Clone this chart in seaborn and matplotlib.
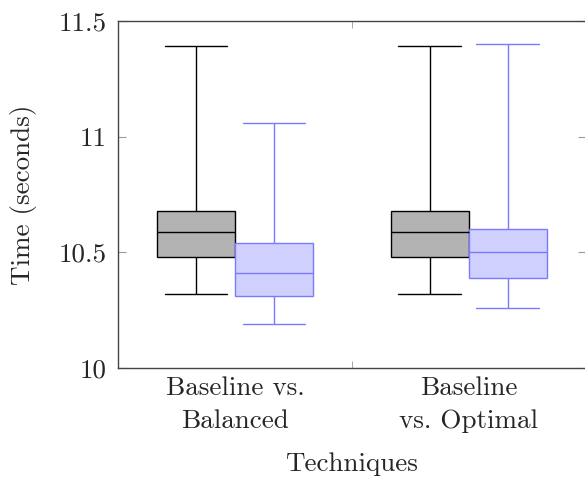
import pandas as pd
import numpy as np
import matplotlib
matplotlib.use('Agg')
import matplotlib.pyplot as plt
import seaborn as sns
from matplotlib.ticker import FixedLocator, FuncFormatter

# five-number summaries: min, q1, median, q3, max
techniques = ['Baseline vs.\nBalanced', 'Baseline\nvs. Optimal']
baseline_1 = [10.32, 10.48, 10.59, 10.68, 11.39]
balanced = [10.19, 10.31, 10.41, 10.54, 11.06]
baseline_2 = [10.32, 10.48, 10.59, 10.68, 11.39]
optimal = [10.26, 10.39, 10.50, 10.60, 11.40]

rows = []
for tech, base, other in [(techniques[0], baseline_1, balanced),
                          (techniques[1], baseline_2, optimal)]:
    for v in base:
        rows.append((tech, 'Baseline', v))
    for v in other:
        rows.append((tech, 'Technique', v))
df = pd.DataFrame(rows, columns=['technique', 'method', 'time'])

sns.set_style('white')
plt.rcParams['font.family'] = ['cmr10', 'DejaVu Serif']
plt.rcParams['axes.formatter.use_mathtext'] = True
fs = 19.5

fig = plt.figure(figsize=(5.85, 4.78), dpi=100)
ax = fig.add_axes([118 / 585, 1 - 368 / 478, 467.5 / 585, 347 / 478])

hue_order = ['Baseline', 'Technique']
palette = {'Baseline': '#b3b3b3', 'Technique': '#d0d0ff'}
box_w = 0.668
for method, edge in [('Baseline', 'black'), ('Technique', '#7a7aff')]:
    sns.boxplot(data=df[df['method'] == method], x='technique', y='time',
                hue='method', hue_order=hue_order, palette=palette,
                order=techniques, width=box_w, gap=0, whis=(0, 100),
                dodge=True, linecolor=edge, linewidth=1.0, legend=False,
                ax=ax, saturation=1, capwidths=0.8 * box_w / 2)

ax.set_xlim(-0.5, 1.5)
ax.set_ylim(10, 11.5)
ax.set_yticks([10, 10.5, 11, 11.5])
ax.yaxis.set_major_formatter(FuncFormatter(lambda v, p: f'{v:g}'))
ax.xaxis.set_minor_locator(FixedLocator([0.5]))
ax.tick_params(axis='x', which='major', length=0, pad=6, labelsize=fs)
ax.tick_params(axis='x', which='minor', direction='in', length=5,
               color='#999999', top=True, bottom=True)
ax.tick_params(axis='y', direction='in', length=6, color='#999999',
               left=True, right=True, labelsize=fs, pad=8)
for lbl in ax.get_xticklabels():
    lbl.set_linespacing(1.5)
for s in ax.spines.values():
    s.set_color('#444444')
    s.set_linewidth(1.0)

ax.set_xlabel('Techniques', fontsize=fs, labelpad=14)
ax.set_ylabel('Time (seconds)', fontsize=fs, labelpad=16)

fig.savefig('out.png', dpi=100)
